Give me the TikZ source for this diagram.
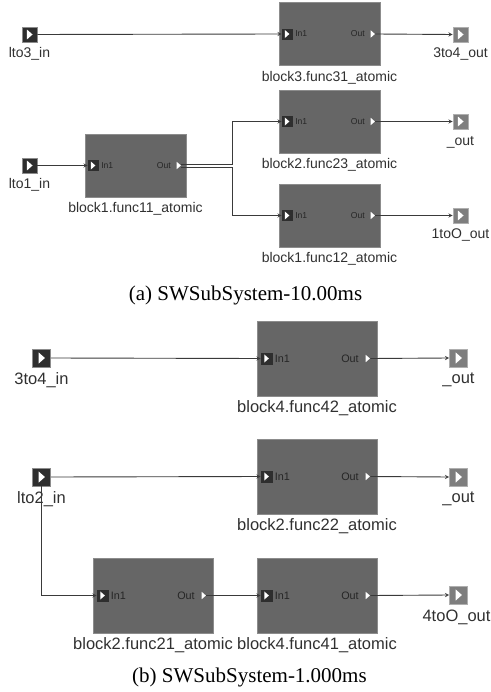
\documentclass[tikz,border=0pt]{standalone}
\usepackage{fontspec}
\setmainfont{Liberation Serif}
\setsansfont{Liberation Sans}
\usepackage{xcolor}
\usetikzlibrary{arrows.meta,positioning}
\definecolor{BlockFill}{HTML}{666666}
\definecolor{BlockBorder}{HTML}{8C8C8C}
\definecolor{PortDark}{HTML}{2E2E2E}
\definecolor{PortGray}{HTML}{7E7E7E}
\definecolor{FigWire}{HTML}{3A3A3A}
\definecolor{FigText}{HTML}{303030}
\begin{document}
\begin{tikzpicture}[x=1pt,y=1pt,
  tri/.style={path picture={\fill[white]
    ([shift={(-.32*#1,.62*#1)}]path picture bounding box.center)
    --([shift={(.38*#1,0)}]path picture bounding box.center)
    --([shift={(-.32*#1,-.62*#1)}]path picture bounding box.center)--cycle;}},
  ninA/.style={draw=BlockBorder,fill=PortDark,line width=0.6pt,inner sep=0pt,
    minimum size=15pt,tri=8},
  noutA/.style={draw=BlockBorder!70,fill=PortGray,line width=0.6pt,inner sep=0pt,
    minimum size=15pt,tri=8},
  ninB/.style={ninA,minimum size=18pt,tri=9},
  noutB/.style={noutA,minimum size=18pt,tri=9},
  blkA/.style={draw=BlockBorder,fill=BlockFill,line width=0.6pt,inner sep=0pt,
    minimum width=101pt,minimum height=63pt},
  blkB/.style={blkA,minimum width=120pt,minimum height=75pt},
  pinIn/.style={draw=PortDark,fill=PortDark,line width=0.4pt,inner sep=0pt,
    minimum width=#1,minimum height=#1,tri=6.5},
  pinOut/.style={inner sep=0pt,minimum width=5pt,minimum height=11pt,tri=6},
  txtA/.style={font=\sffamily\fontsize{8.6}{10}\selectfont,text=black!85,inner sep=0pt},
  txtB/.style={font=\sffamily\fontsize{10.8}{12}\selectfont,text=black!85,inner sep=0pt},
  lblA/.style={font=\sffamily\fontsize{14}{16}\selectfont,text=FigText,inner sep=0pt},
  lblB/.style={font=\sffamily\fontsize{16.5}{18}\selectfont,text=FigText,inner sep=0pt},
  figcap/.style={font=\rmfamily\fontsize{21}{24}\selectfont,text=black,inner sep=0pt},
  wire/.style={->,>=stealth,draw=FigWire,line width=0.9pt}
]
\useasboundingbox (0,0) rectangle (490,-692);
% Upper subsystem
\node[ninA]  (i3) at (29.5,-34.5) {};
\node[ninA]  (i1) at (29.5,-165.5) {};
\node[noutA] (o3) at (460.5,-34.5) {};
\node[noutA] (o2) at (460.5,-121.5) {};
\node[noutA] (o0) at (460.5,-215.5) {};
\node[blkA] (b31) at (329.5,-34)    {};
\node[blkA] (b23) at (329.5,-121.5) {};
\node[blkA] (b12) at (329.5,-215.5) {};
\node[blkA] (b11) at (135.5,-165.5) {};
\foreach \b in {b31,b23,b12,b11}{
  \node[pinIn=10pt,right=3pt of \b.west] (\b in) {};
  \node[txtA,right=3pt of \b in] (\b tin) {In1};
  \node[pinOut,left=5pt of \b.east] (\b out) {};
  \node[txtA,left=5pt of \b out] (\b tout) {Out};
}
\node[lblA,below=5pt of i3] (li3) {lto3\_in};
\node[lblA,below=5pt of i1] (li1) {lto1\_in};
\node[lblA,below=5pt of o3] (lo3) {3to4\_out};
\node[lblA,below=7pt of o2] (lo2) {\_out};
\node[lblA,below=5pt of o0] (lo0) {1toO\_out};
\node[lblA,below=5pt of b31] (l31) {block3.func31\_atomic};
\node[lblA,below=5pt of b23] (l23) {block2.func23\_atomic};
\node[lblA,below=5pt of b12] (l12) {block1.func12\_atomic};
\node[lblA,below=5pt of b11] (l11) {block1.func11\_atomic};
\coordinate (jogU) at (232,-164);
\coordinate (jogL) at (232,-167);
\draw[wire] (i3.east)--(b31in.west);
\draw[wire] (i1.east)--(b11in.west);
\draw[wire] (b31out.east)--(o3.west);
\draw[wire] (b23out.east)--(o2.west);
\draw[wire] (b12out.east)--(o0.west);
\draw[wire] ([yshift=1.5pt]b11out.east)--(jogU) |- (b23in.west);
\draw[wire] ([yshift=-1.5pt]b11out.east)--(jogL) |- (b12in.west);
\node[figcap] (capA) at (245.5,-295) {(a) SWSubSystem-10.00ms};
% Lower subsystem
\node[ninB]  (i4) at (41.5,-358) {};
\node[ninB]  (i2) at (41.5,-477) {};
\node[noutB] (o4) at (458.5,-358) {};
\node[noutB] (o5) at (458.5,-477) {};
\node[noutB] (o6) at (458.5,-595) {};
\node[blkB] (b42) at (317,-358.5) {};
\node[blkB] (b22) at (317,-476.5) {};
\node[blkB] (b21) at (153,-595.5) {};
\node[blkB] (b41) at (317,-595.5) {};
\foreach \b in {b42,b22,b21,b41}{
  \node[pinIn=11pt,right=4pt of \b.west] (\b in) {};
  \node[txtB,right=2.5pt of \b in] (\b tin) {In1};
  \node[pinOut,left=7pt of \b.east] (\b out) {};
  \node[txtB,left=6pt of \b out] (\b tout) {Out};
}
\node[lblB,below=5pt of i4] (li4) {3to4\_in};
\node[lblB,below=5pt of i2] (li2) {lto2\_in};
\node[lblB,below=5pt of o4] (lo4) {\_out};
\node[lblB,below=5pt of o5] (lo5) {\_out};
\node[lblB,below=5pt of o6,xshift=-2pt] (lo6) {4toO\_out};
\node[lblB,below=4pt of b42] (l42) {block4.func42\_atomic};
\node[lblB,below=4pt of b22] (l22) {block2.func22\_atomic};
\node[lblB,below=4pt of b21] (l21) {block2.func21\_atomic};
\node[lblB,below=4pt of b41] (l41) {block4.func41\_atomic};
\draw[wire] (i4.east)--(b42in.west);
\draw[wire] (i2.east)--(b22in.west);
\draw[wire] (i2.south) |- (b21in.west);
\draw[wire] (b42out.east)--(o4.west);
\draw[wire] (b22out.east)--(o5.west);
\draw[wire] (b21out.east)--(b41in.west);
\draw[wire] (b41out.east)--(o6.west);
\node[figcap] (capB) at (249.5,-677) {(b) SWSubSystem-1.000ms};
\end{tikzpicture}
\end{document}
